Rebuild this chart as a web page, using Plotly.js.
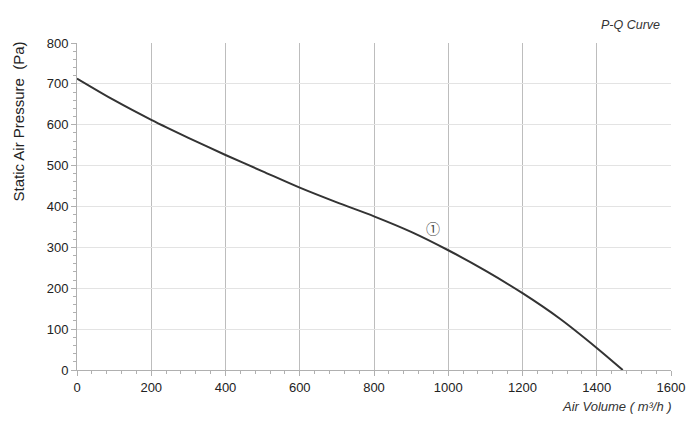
<!DOCTYPE html>
<html>
<head>
<meta charset="utf-8">
<script src="https://cdn.plot.ly/plotly-3.0.1.min.js"></script>
<style>html,body{margin:0;padding:0;background:#fff;}#chart{width:700px;height:424px;}</style>
</head>
<body>
<div id="chart"></div>
<script>
// Air volume (m3/h)
const airVolume = [0, 100, 200, 300, 400, 500, 600, 700, 800, 900, 1000, 1100, 1200, 1300, 1400, 1470];
// Static air pressure (Pa)
const staticPressure = [713, 660, 612, 568, 526, 486, 446, 410, 376, 338, 293, 243, 188, 126, 54, 0];
const curveLabel = { text: '①', x: 960, y: 347 };
const xTicks = [0, 200, 400, 600, 800, 1000, 1200, 1400, 1600];
const yTicks = [0, 100, 200, 300, 400, 500, 600, 700, 800];

const trace = {
  x: airVolume, y: staticPressure, type: 'scatter', mode: 'lines',
  line: { color: '#333333', width: 2, shape: 'spline', smoothing: 0.8 },
  hoverinfo: 'skip'
};

const font = 'Liberation Sans, Arial, sans-serif';
const layout = {
  width: 700, height: 424,
  margin: { l: 77, r: 29, t: 43, b: 54 },
  paper_bgcolor: '#fff', plot_bgcolor: '#fff',
  showlegend: false,
  font: { family: font, size: 13, color: '#222' },
  xaxis: {
    range: [0, 1600], tickvals: xTicks, ticktext: xTicks.map(String),
    showgrid: true, gridcolor: '#bdbdbd', gridwidth: 1,
    zeroline: false, showline: true, linecolor: '#b0b0b0', linewidth: 1,
    ticks: 'outside', ticklen: 5, tickcolor: '#b0b0b0',
    tickfont: { family: font, size: 13, color: '#222' },
    minor: { dtick: 40, tick0: 0, ticks: 'outside', ticklen: 3, tickcolor: '#b0b0b0', showgrid: false },
    fixedrange: true
  },
  yaxis: {
    range: [0, 800], tickvals: yTicks, ticktext: yTicks.map(String),
    showgrid: true, gridcolor: '#e3e3e3', gridwidth: 1,
    zeroline: false, showline: true, linecolor: '#b0b0b0', linewidth: 1,
    ticks: 'outside', ticklen: 5, tickcolor: '#b0b0b0',
    tickfont: { family: font, size: 13, color: '#222' },
    minor: { dtick: 20, tick0: 0, ticks: 'outside', ticklen: 3, tickcolor: '#b0b0b0', showgrid: false },
    fixedrange: true
  },
  annotations: [
    { text: '<i>P-Q Curve</i>', xref: 'paper', yref: 'paper', x: 0.985, y: 1, yshift: 18, xanchor: 'right', yanchor: 'middle',
      showarrow: false, font: { family: font, size: 12.5, color: '#333' } },
    { text: '<i>Air Volume ( m³/h )</i>', xref: 'paper', yref: 'paper', x: 1.005, y: 0, yshift: -36, xanchor: 'right', yanchor: 'middle',
      showarrow: false, font: { family: font, size: 13, color: '#333' } },
    { text: 'Static Air Pressure  (Pa)', xref: 'paper', yref: 'paper', x: -0.0993, y: 0.76, xanchor: 'center', yanchor: 'middle',
      textangle: -90, showarrow: false, font: { family: font, size: 15, color: '#222' } },
    { text: curveLabel.text, x: curveLabel.x, y: curveLabel.y, xref: 'x', yref: 'y', showarrow: false,
      font: { family: 'Noto Sans CJK SC, DejaVu Serif, serif', size: 14, color: '#444' } }
  ]
};

Plotly.newPlot('chart', [trace], layout, { displayModeBar: false, staticPlot: true });
</script>
</body>
</html>
